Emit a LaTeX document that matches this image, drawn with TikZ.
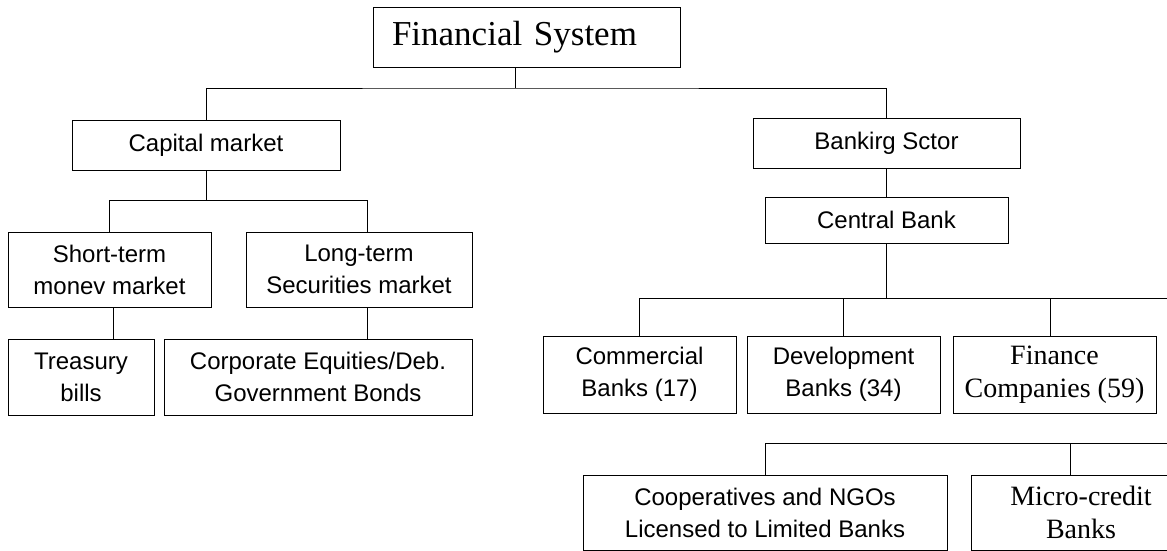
\documentclass[tikz,border=0pt]{standalone}
\usepackage{fontspec}
\setmainfont{Liberation Serif}
\setsansfont{Liberation Sans}
\usepackage{tikz}
\usetikzlibrary{positioning,calc}

\begin{document}
\begin{tikzpicture}[
    x=1pt, y=-1pt,
    sansbox/.style={
      rectangle, draw=black, line width=0.9pt, inner sep=0pt,
      font=\sffamily\fontsize{24}{32}\selectfont, align=center
    },
    serifbox/.style={
      rectangle, draw=black, line width=0.9pt, inner sep=0pt,
      font=\rmfamily\fontsize{28}{33}\selectfont, align=center
    },
    link/.style={
      line width=0.8pt, black
    }
  ]
  \useasboundingbox (0,0) rectangle (1167,551);
  \clip (0,0) rectangle (1167,551);

  % --- Top ---
  \node[serifbox, font=\rmfamily\fontsize{35}{40}\selectfont, text width=307pt, align=left,
    minimum height=60pt] (fs) at (526.5,37) {\hspace*{19pt}Financial System};

  % --- Left branch: capital market ---
  \node[sansbox, minimum width=268pt, minimum height=50pt] (cap) at (206,145) {Capital market};
  \node[sansbox, minimum width=203pt, minimum height=75pt] (st) at (109.5,269.5) {Short-term\\monev market};
  \node[sansbox, minimum width=226pt, minimum height=75pt] (lt) at (359,269.5) {Long-term\\Securities market};
  \node[sansbox, minimum width=146pt, minimum height=76pt] (tb) at (81,377) {Treasury\\bills};
  \node[sansbox, minimum width=308pt, minimum height=76pt] (corp) at (318,377) {Corporate Equities/Deb.\\Government Bonds};

  % --- Right branch: banking sector ---
  \node[sansbox, minimum width=267pt, minimum height=50pt] (bank) at (886.5,143) {Bankirg Sctor};
  \node[sansbox, minimum width=243pt, minimum height=46pt] (cb) at (886.5,220) {Central Bank};
  \node[sansbox, minimum width=193pt, minimum height=77pt] (com) at (639.5,374.5) {Commercial\\Banks (17)};
  \node[sansbox, minimum width=193pt, minimum height=77pt] (dev) at (843.5,374.5) {Development\\Banks (34)};
  \node[serifbox, minimum width=203pt, minimum height=77pt] (fin) at (1054.5,374.5) {Finance\\Companies (59)};
  \node[sansbox, minimum width=364pt, minimum height=75pt] (coop) at (765,512.5) {Cooperatives and NGOs\\Licensed to Limited Banks};
  \node[serifbox, minimum width=220pt, minimum height=75pt] (micro) at (1081,512.5) {Micro-credit\\Banks};

  % --- Connectors ---
  \coordinate (topbar) at (515,88);
  \coordinate (capbar) at (0,200);
  \coordinate (cbbar) at (1167,298);
  \coordinate (lowbar) at (1167,443);

  \draw[link] (fs.south -| topbar) -- (topbar);
  \draw[link] (cap.north) |- (topbar) -| (bank.north);
  \draw[link] (bank.south) -- (cb.north);

  \draw[link] (cap.south) -- (cap.south |- capbar);
  \draw[link] (st.north) |- ($(lt.north |- capbar)+(8,0)$) -- ($(lt.north)+(8,0)$);
  \draw[link] ($(st.south)+(3.5,0)$) -- ($(st.south |- tb.north)+(3.5,0)$);
  \draw[link] ($(lt.south)+(8,0)$) -- ($(lt.south |- corp.north)+(8,0)$);

  \draw[link] (cb.south) -- (cb.south |- cbbar);
  \draw[link] (com.north) |- (cbbar);
  \draw[link] (dev.north) -- (dev.north |- cbbar);
  \draw[link] ($(fin.north)+(-4,0)$) -- ($(fin.north |- cbbar)+(-4,0)$);

  \draw[link] (coop.north) |- (lowbar);
  \draw[link] ($(micro.north)+(-11,0)$) -- ($(micro.north |- lowbar)+(-11,0)$);
\end{tikzpicture}
\end{document}
